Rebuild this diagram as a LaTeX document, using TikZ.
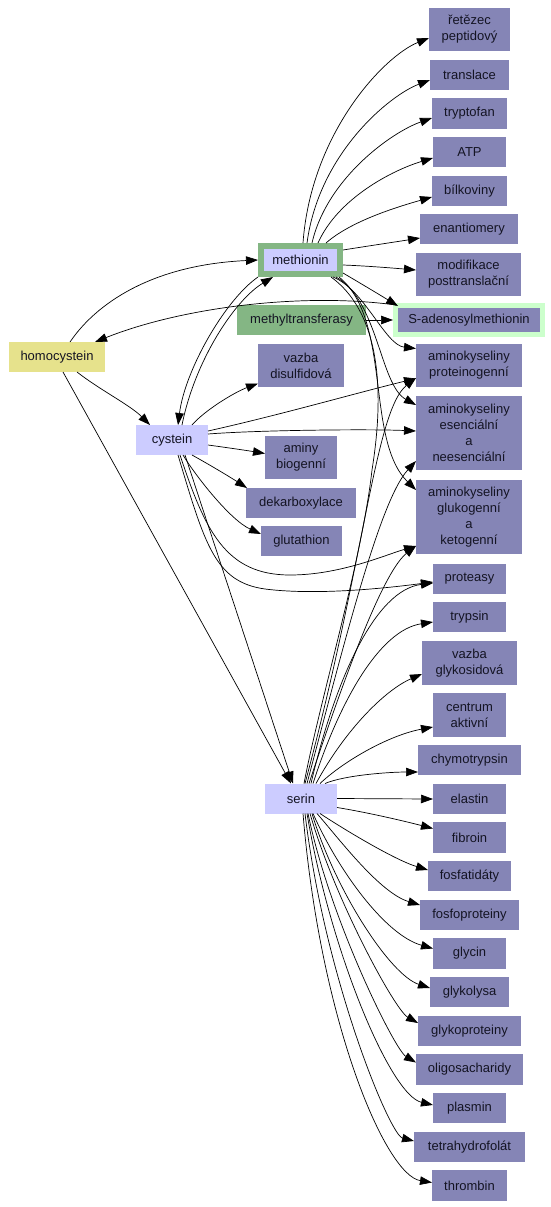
\documentclass[tikz,border=0pt]{standalone}
\usepackage{fontspec}
\setmainfont{Liberation Sans}
\usetikzlibrary{arrows.meta,calc}
\definecolor{pur}{RGB}{133,133,182}
\definecolor{lav}{RGB}{204,204,255}
\definecolor{yel}{RGB}{230,226,140}
\definecolor{mgreen}{RGB}{132,182,132}
\definecolor{lgreen}{RGB}{204,255,204}
\definecolor{txt}{RGB}{20,20,35}
\newcommand{\nodefnt}{\fontsize{13}{16}\selectfont}
\begin{document}
\begin{tikzpicture}[x=1pt,y=-1pt,
  box/.style={rectangle, fill=pur, inner sep=0pt, outer sep=0pt, align=center, font=\nodefnt, text=txt},
  arr/.style={-{Triangle[length=12pt,width=8.5pt]}, line width=0.7pt},
  ln/.style={line width=0.7pt}]
\fill[white] (0,0) rectangle (551,1207);
\useasboundingbox (0,0) rectangle (551,1207);

% right column
\node[box, minimum width=81pt, minimum height=43pt] (ret) at (469.5,29.5) {řetězec\\peptidový};
\node[box, minimum width=79pt, minimum height=30pt] (transl) at (469.5,75) {translace};
\node[box, minimum width=75pt, minimum height=31pt] (trypt) at (469.5,113.5) {tryptofan};
\node[box, minimum width=73pt, minimum height=30pt] (atp) at (469.5,152) {ATP};
\node[box, minimum width=75pt, minimum height=30pt] (bilk) at (469.5,191) {bílkoviny};
\node[box, minimum width=98pt, minimum height=30pt] (enan) at (469,229) {enantiomery};
\node[box, minimum width=105pt, minimum height=43pt] (modif) at (468.5,274.5) {modifikace\\posttranslační};
\node[box, draw=lgreen, line width=5pt, outer sep=2.5pt, minimum width=147pt, minimum height=29pt] (sam) at (469,320) {S-adenosylmethionin};
\node[box, minimum width=106pt, minimum height=43pt] (amprot) at (469,365.5) {aminokyseliny\\proteinogenní};
\node[box, minimum width=106pt, minimum height=74pt] (amesen) at (469,433) {aminokyseliny\\esenciální\\a\\neesenciální};
\node[box, minimum width=106pt, minimum height=74pt] (amgluk) at (469,517) {aminokyseliny\\glukogenní\\a\\ketogenní};
\node[box, minimum width=73pt, minimum height=30pt] (proteasy) at (469.5,579) {proteasy};
\node[box, minimum width=73pt, minimum height=30pt] (trypsin) at (469.5,617) {trypsin};
\node[box, minimum width=95pt, minimum height=44pt] (vazgly) at (469.5,663) {vazba\\glykosidová};
\node[box, minimum width=73pt, minimum height=44pt] (centrum) at (469.5,715) {centrum\\aktivní};
\node[box, minimum width=103pt, minimum height=30pt] (chymo) at (469.5,760) {chymotrypsin};
\node[box, minimum width=73pt, minimum height=30pt] (elastin) at (469.5,799) {elastin};
\node[box, minimum width=73pt, minimum height=31pt] (fibroin) at (469.5,837.5) {fibroin};
\node[box, minimum width=83pt, minimum height=30pt] (fosfat) at (469.5,876) {fosfatidáty};
\node[box, minimum width=99pt, minimum height=30pt] (fosfop) at (469.5,915) {fosfoproteiny};
\node[box, minimum width=73pt, minimum height=31pt] (glycin) at (469.5,953.5) {glycin};
\node[box, minimum width=79pt, minimum height=30pt] (glykolysa) at (469.5,992) {glykolysa};
\node[box, minimum width=103pt, minimum height=30pt] (glykoprot) at (469.5,1031) {glykoproteiny};
\node[box, minimum width=107pt, minimum height=31pt] (oligo) at (469.5,1069.5) {oligosacharidy};
\node[box, minimum width=73pt, minimum height=30pt] (plasmin) at (469.5,1108) {plasmin};
\node[box, minimum width=111pt, minimum height=30pt] (tetra) at (469.5,1147) {tetrahydrofolát};
\node[box, minimum width=75pt, minimum height=31pt] (thrombin) at (469.5,1185.5) {thrombin};

% middle column
\node[box, fill=lav, draw=mgreen, line width=6pt, outer sep=3pt, minimum width=79pt, minimum height=28pt] (met) at (300.5,260) {methionin};
\node[box, fill=mgreen, minimum width=129pt, minimum height=30pt] (methyl) at (301.5,320) {methyltransferasy};
\node[box, minimum width=86pt, minimum height=43pt] (vazdis) at (301,365.5) {vazba\\disulfidová};
\node[box, minimum width=72pt, minimum height=43pt] (aminy) at (301,457.5) {aminy\\biogenní};
\node[box, minimum width=110pt, minimum height=30pt] (dekarb) at (301,503) {dekarboxylace};
\node[box, minimum width=81pt, minimum height=30pt] (gluta) at (301.5,541) {glutathion};
\node[box, fill=lav, minimum width=72pt, minimum height=30pt] (serin) at (301,798.5) {serin};

% left column
\node[box, fill=yel, minimum width=96pt, minimum height=30pt] (homo) at (57,357) {homocystein};
\node[box, fill=lav, minimum width=72pt, minimum height=30pt] (cyst) at (172,440) {cystein};

% methionin edges
\draw[arr] ($(met.north)+(2.5,0)$) .. controls (311,133) and (384,56) .. ($(ret.west)+(0,8.5)$);
\draw[arr] ($(met.north)+(6.5,0)$) .. controls (319,153) and (390,95) .. ($(transl.west)+(0,5)$);
\draw[arr] ($(met.north)+(11.5,0)$) .. controls (327,178) and (392,132) .. ($(trypt.west)+(0,4.5)$);
\draw[arr] ($(met.north)+(17.5,0)$) .. controls (338,198) and (393,170) .. ($(atp.west)+(0,6)$);
\draw[arr] ($(met.north)+(25.5,0)$) .. controls (351,221) and (397,207) .. ($(bilk.west)+(0,6)$);
\draw[arr] ($(met.east)+(0,-10)$) .. controls (368,246) and (395,242) .. ($(enan.west)+(0,9)$);
\draw[arr] ($(met.east)+(0,5)$) .. controls (368,266) and (392,268) .. ($(modif.west)+(0,-4.5)$);
\draw[arr] ($(met.east)+(0,13)$) .. controls (360,283) and (380,295) .. ($(sam.north west)+(5,3)$);
\draw[arr] ($(met.south east)+(-10,0)$) .. controls (365,290) and (385,345) .. ($(amprot.west)+(0,-17)$);
\draw[arr] ($(met.south east)+(-7,0)$) .. controls (378,300) and (380,385) .. ($(amesen.west)+(0,-28)$);
\draw[arr] ($(met.south east)+(-4,0)$) .. controls (392,320) and (365,440) .. ($(amgluk.west)+(0,-27)$);
\draw[ln] ($(met.south east)+(-12,0)$) .. controls (390,320) and (380,420) .. (372,470) .. controls (362,560) and (320,700) .. ($(serin.north)+(3,0)$);
\draw[arr] (met.south west) .. controls (225,300) and (185,370) .. ($(cyst.north)+(6,0)$);
\draw[arr] ($(cyst.north)+(10,0)$) .. controls (195,360) and (235,300) .. ($(met.south west)+(15,0)$);

% homocystein, SAM
\draw[arr] ($(homo.north)+(13,0)$) .. controls (95,305) and (150,265) .. (met.west);
\draw[arr] ($(sam.north west)+(3,2)$) .. controls (300,292) and (180,308) .. ($(homo.north east)+(-10,0)$);
\draw[arr] (methyl.east) -- (sam.west);
\draw[arr] ($(homo.south)+(20,0)$) .. controls (100,390) and (130,405) .. ($(cyst.north west)+(14,0)$);
\draw[arr] ($(homo.south)+(6,0)$) -- ($(serin.north)+(-10,0)$);

% cystein edges
\draw[arr] ($(cyst.north east)+(-16,0)$) .. controls (205,410) and (235,392) .. ($(vazdis.west)+(0,18)$);
\draw[arr] ($(cyst.east)+(0,-9)$) .. controls (280,415) and (360,392) .. ($(amprot.west)+(0,13)$);
\draw[arr] ($(cyst.east)+(0,-6)$) .. controls (260,430) and (370,429) .. ($(amesen.west)+(0,-2)$);
\draw[arr] ($(cyst.east)+(0,5)$) .. controls (230,448) and (250,451) .. ($(aminy.west)+(0,-4)$);
\draw[arr] ($(cyst.south east)+(-16,0)$) .. controls (210,465) and (230,477) .. ($(dekarb.north west)+(1,0)$);
\draw[arr] ($(cyst.south)+(11,0)$) .. controls (195,475) and (230,520) .. ($(gluta.west)+(0,-7)$);
\draw[arr] ($(cyst.south)+(8,0)$) .. controls (205,530) and (225,575) .. (290,575) .. controls (340,575) and (385,555) .. ($(amgluk.west)+(0,29)$);
\draw[arr] ($(cyst.south)+(6,0)$) .. controls (205,545) and (215,582) .. (265,589) .. controls (320,596) and (395,587) .. ($(proteasy.west)+(0,3)$);
\draw[arr] ($(cyst.south)+(13,0)$) -- ($(serin.north)+(-8,0)$);

% serin edges up
\draw[arr] ($(serin.north)+(4,0)$) .. controls (365,560) and (375,410) .. ($(amprot.west)+(0,12.5)$);
\draw[arr] ($(serin.north)+(6,0)$) .. controls (345,640) and (380,500) .. ($(amesen.west)+(0,28)$);
\draw[arr] ($(serin.north)+(8,0)$) .. controls (350,660) and (385,570) .. ($(amgluk.west)+(0,29)$);
\draw[arr] ($(serin.north)+(10,0)$) .. controls (335,680) and (375,590) .. ($(proteasy.west)+(0,4)$);
\draw[arr] ($(serin.north)+(12,0)$) .. controls (340,700) and (380,630) .. ($(trypsin.west)+(0,5)$);
\draw[arr] ($(serin.north)+(15,0)$) .. controls (345,730) and (385,690) .. ($(vazgly.west)+(0,11)$);
\draw[arr] ($(serin.north)+(19,0)$) .. controls (345,760) and (390,735) .. ($(centrum.west)+(0,12)$);
\draw[arr] ($(serin.north east)+(-12,0)$) .. controls (345,775) and (390,772) .. ($(chymo.west)+(0,12)$);
\draw[arr] (serin.east) -- (elastin.west);
% serin edges down
\draw[arr] ($(serin.east)+(0,9)$) .. controls (365,812) and (400,820) .. ($(fibroin.west)+(0,-9)$);
\draw[arr] ($(serin.south east)+(-17,0)$) .. controls (345,830) and (395,860) .. ($(fosfat.west)+(0,-6)$);
\draw[arr] ($(serin.south)+(16,0)$) .. controls (340,840) and (380,893) .. ($(fosfop.west)+(0,-10)$);
\draw[arr] ($(serin.south)+(12,0)$) .. controls (338,870) and (385,935) .. ($(glycin.west)+(0,-5)$);
\draw[arr] ($(serin.south)+(11,0)$) .. controls (335,890) and (390,975) .. ($(glykolysa.west)+(0,-4)$);
\draw[arr] ($(serin.south)+(9,0)$) .. controls (335,900) and (395,1010) .. ($(glykoprot.west)+(0,-8)$);
\draw[arr] ($(serin.south)+(7,0)$) .. controls (330,920) and (395,1050) .. ($(oligo.west)+(0,-7)$);
\draw[arr] ($(serin.south)+(6,0)$) .. controls (330,950) and (390,1095) .. ($(plasmin.west)+(0,-3)$);
\draw[arr] ($(serin.south)+(4,0)$) .. controls (325,980) and (390,1135) .. ($(tetra.west)+(0,-6)$);
\draw[arr] ($(serin.south)+(2,0)$) .. controls (320,1020) and (385,1175) .. ($(thrombin.west)+(0,-3)$);
\end{tikzpicture}
\end{document}
